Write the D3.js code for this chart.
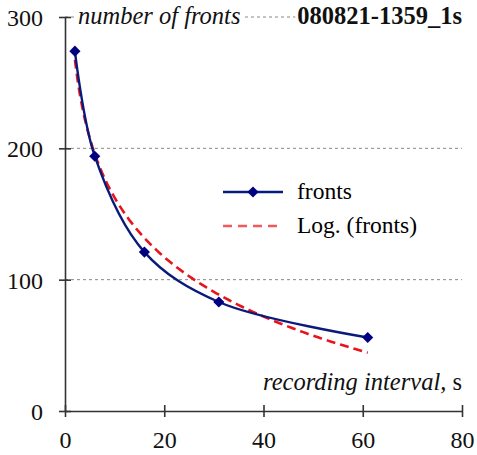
<!DOCTYPE html>
<html>
<head>
<meta charset="utf-8">
<script src="https://cdn.jsdelivr.net/npm/d3@7"></script>
<style>
body { margin: 0; background: #fff; }
text { font-family: Liberation Serif, DejaVu Serif, serif; }
.grid { stroke: #888; stroke-width: 1; stroke-dasharray: 3,3; }
</style>
</head>
<body>
<div id="chart"></div>
<script>
// recording interval (s) and number of fronts
var intervals = [2, 6, 16, 31, 61];
var fronts = [274, 194, 121, 83, 56];
var xTicks = [0, 20, 40, 60, 80];
var yTicks = [0, 100, 200, 300];
var title = "080821-1359_1s";

var serif = "Liberation Serif";
var W = 477, H = 455;
var margin = { top: 17, right: 15, bottom: 44, left: 65 };

var svg = d3.select("#chart").append("svg")
	.attr("width", W)
	.attr("height", H)
	.attr("font-family", serif);

var x = d3.scaleLinear().domain([0, 80]).range([margin.left, W - margin.right]);
var y = d3.scaleLinear().domain([0, 300]).range([H - margin.bottom, margin.top]);

//gridlines
svg.selectAll(".grid")
	.data(yTicks.filter(function(d) { return d > 0; }))
	.enter().append("line")
	.attr("class", "grid")
	.attr("x1", x(0)).attr("x2", x(80))
	.attr("y1", function(d) { return y(d); })
	.attr("y2", function(d) { return y(d); });

//axes, ticks crossing the axis line
var xAxis = svg.append("g")
	.attr("transform", "translate(0," + y(0) + ")")
	.call(d3.axisBottom(x).tickValues(xTicks).tickSizeInner(6).tickSizeOuter(0).tickPadding(14));
xAxis.selectAll(".tick line").attr("y1", -6);

var yAxis = svg.append("g")
	.attr("transform", "translate(" + x(0) + ",0)")
	.call(d3.axisLeft(y).tickValues(yTicks).tickSizeInner(6).tickSizeOuter(0).tickPadding(16));
yAxis.selectAll(".tick line").attr("x1", 6);

svg.selectAll(".domain, .tick line").attr("stroke", "#333").attr("stroke-width", 1.6);
xAxis.attr("font-family", serif).attr("font-size", 24);
yAxis.attr("font-family", serif).attr("font-size", 24);
svg.selectAll(".tick text").attr("fill", "#111");
yAxis.selectAll(".tick text").attr("dy", "0.35em");
xAxis.selectAll(".tick text").attr("dy", "0.71em");

//logarithmic trendline (least squares on ln x)
var lx = intervals.map(Math.log);
var mx = d3.mean(lx), my = d3.mean(fronts);
var a = d3.sum(lx, function(v, i) { return (v - mx) * (fronts[i] - my); }) /
	d3.sum(lx, function(v) { return (v - mx) * (v - mx); });
var b = my - a * mx;
var trendX = d3.range(intervals[0], intervals[intervals.length - 1] + 0.01, 0.5);

var trendLine = d3.line()
	.x(function(d) { return x(d); })
	.y(function(d) { return y(a * Math.log(d) + b); });

svg.append("path")
	.datum(trendX)
	.attr("d", trendLine)
	.attr("fill", "none")
	.attr("stroke", "#e8141c")
	.attr("stroke-width", 2.6)
	.attr("stroke-dasharray", "9,5");

//data line (smoothed)
var dataLine = d3.line()
	.x(function(d, i) { return x(intervals[i]); })
	.y(function(d) { return y(d); })
	.curve(d3.curveCatmullRom);

svg.append("path")
	.datum(fronts)
	.attr("d", dataLine)
	.attr("fill", "none")
	.attr("stroke", "#0a1a7a")
	.attr("stroke-width", 2.4);

var diamond = d3.symbol().type(d3.symbolSquare).size(62);
svg.selectAll(".pt")
	.data(fronts)
	.enter().append("path")
	.attr("class", "pt")
	.attr("d", diamond)
	.attr("transform", function(d, i) { return "translate(" + x(intervals[i]) + "," + y(d) + ") rotate(45)"; })
	.attr("fill", "#000080");

//titles with white background over the 300 gridline
function label(tx, ty, anchor, weight, parts) {
	var t = svg.append("text")
		.attr("x", tx).attr("y", ty)
		.attr("text-anchor", anchor)
		.attr("fill", "#111")
		.attr("font-family", serif)
		.attr("font-size", 24.5)
		.attr("font-weight", weight);
	parts.forEach(function(p) {
		t.append("tspan").attr("font-style", p[1]).text(p[0]);
	});
	var bb = t.node().getBBox();
	svg.insert("rect", function() { return t.node(); })
		.attr("x", bb.x - 2).attr("y", bb.y)
		.attr("width", bb.width + 4).attr("height", bb.height)
		.attr("fill", "#fff");
	return t;
}

label(x(0) + 13, 24, "start", "normal", [["number of fronts", "italic"]]);
label(x(80), 24, "end", "bold", [[title, "normal"]]);
label(x(80), 390, "end", "normal", [["recording interval, ", "italic"], ["s", "normal"]]);

//legend
var legend = svg.append("g");
legend.append("line")
	.attr("x1", 223).attr("x2", 283).attr("y1", 192).attr("y2", 192)
	.attr("stroke", "#0a1a7a").attr("stroke-width", 2.4);
legend.append("path")
	.attr("d", diamond)
	.attr("transform", "translate(253,192) rotate(45)")
	.attr("fill", "#000080");
legend.append("text")
	.attr("x", 297).attr("y", 199)
	.attr("font-family", serif)
	.attr("font-size", 23.5)
	.text("fronts");
legend.append("line")
	.attr("x1", 223).attr("x2", 283).attr("y1", 226).attr("y2", 226)
	.attr("stroke", "#f05a5a").attr("stroke-width", 2.4)
	.attr("stroke-dasharray", "9,6");
legend.append("text")
	.attr("x", 297).attr("y", 233)
	.attr("font-family", serif)
	.attr("font-size", 23.5)
	.text("Log. (fronts)");
</script>
</body>
</html>
